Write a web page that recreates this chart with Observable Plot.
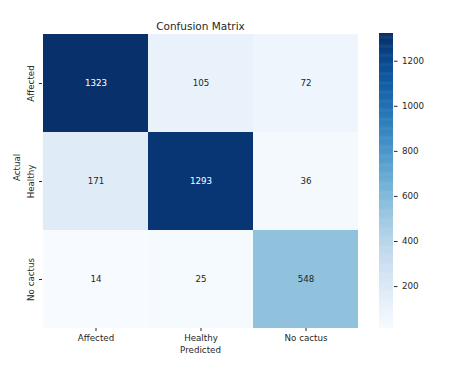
<!DOCTYPE html>
<html><head><meta charset="utf-8">
<script src="https://cdn.jsdelivr.net/npm/d3@7"></script>
<script src="https://cdn.jsdelivr.net/npm/@observablehq/plot@0.6"></script>
<style>
body{margin:0;background:#fff;}
#wrap{position:relative;width:474px;height:373px;font-family:"DejaVu Sans",sans-serif;}
#wrap svg{position:absolute;top:0;}
</style></head><body><div id="wrap"></div>
<script>
const classes = ["Affected", "Healthy", "No cactus"];
const rowAffected = [1323, 105, 72];
const rowHealthy = [171, 1293, 36];
const rowNoCactus = [14, 25, 548];
const colorbarTicks = [200, 400, 600, 800, 1000, 1200];
const title = "Confusion Matrix";
const xLabel = "Predicted";
const yLabel = "Actual";

const rows = [rowAffected, rowHealthy, rowNoCactus];
const cells = [];
classes.forEach((a, i) => classes.forEach((p, j) => cells.push({actual: a, predicted: p, value: rows[i][j]})));
const vmin = d3.min(cells, d => d.value), vmax = d3.max(cells, d => d.value);
const thr = (vmin + vmax) / 2;
const color = {type: "linear", scheme: "blues", domain: [vmin, vmax]};
const font = {fontFamily: "'DejaVu Sans', sans-serif", fontSize: "8.7px", color: "#262626", background: "transparent", overflow: "visible"};

const main = Plot.plot({
  width: 370, height: 373,
  marginLeft: 42, marginRight: 12, marginTop: 33, marginBottom: 45,
  style: font,
  x: {domain: classes, padding: 0, label: null},
  y: {domain: classes, padding: 0, label: null},
  color,
  marks: [
    Plot.cell(cells, {x: "predicted", y: "actual", fill: "value"}),
    Plot.text(cells, {filter: d => d.value > thr, x: "predicted", y: "actual", text: d => String(d.value), fill: "white"}),
    Plot.text(cells, {filter: d => d.value <= thr, x: "predicted", y: "actual", text: d => String(d.value), fill: "#262626"}),
    Plot.axisX({tickSize: 3, tickPadding: 3, label: null}),
    Plot.axisY({tickSize: 3, tickRotate: -90, label: null}),
    Plot.text([title], {text: d => d, frameAnchor: "top", dy: -11, fontSize: 10.5, fill: "#262626"}),
    Plot.text([xLabel], {text: d => d, frameAnchor: "bottom", dy: 24, fill: "#262626"}),
    Plot.text([yLabel], {text: d => d, frameAnchor: "left", dx: -25, rotate: -90, fill: "#262626"})
  ]
});
main.style.left = "0px";

const step = 4;
const steps = d3.range(vmin, vmax, step);
const bar = Plot.plot({
  width: 60, height: 373,
  marginLeft: 0, marginRight: 46, marginTop: 33, marginBottom: 45,
  style: font,
  x: {domain: [0, 1], axis: null},
  y: {domain: [vmin, vmax], label: null, axis: null},
  color,
  marks: [
    Plot.rect(steps, {x1: 0, x2: 1, y1: d => d, y2: d => Math.min(d + step * 1.6, vmax), fill: d => d + step / 2}),
    Plot.axisY(colorbarTicks, {anchor: "right", tickSize: 3.5, tickPadding: 5, tickFormat: d3.format("d"), label: null})
  ]
});
bar.style.left = "379px";

document.getElementById("wrap").append(main, bar);
</script></body></html>
